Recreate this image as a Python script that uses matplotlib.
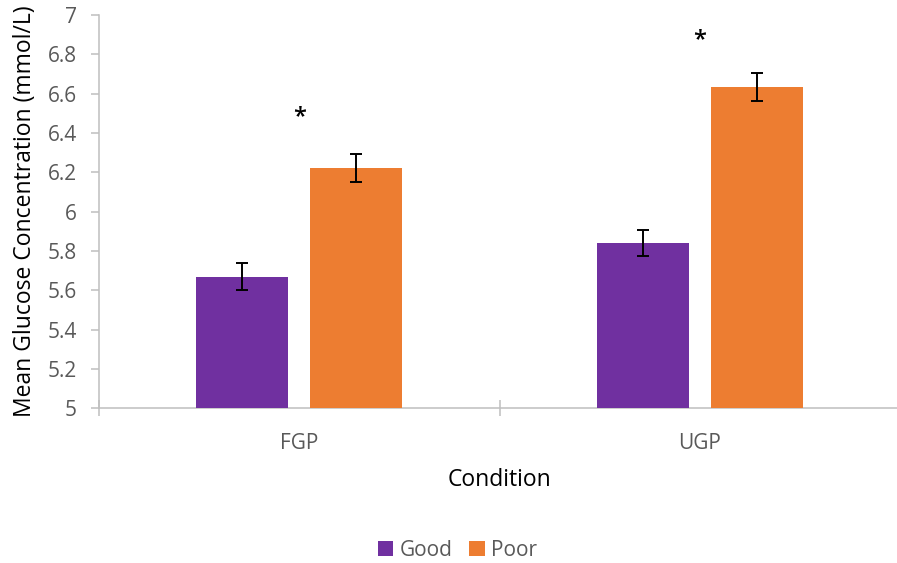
import matplotlib
matplotlib.use("Agg")
import matplotlib.pyplot as plt
import numpy as np

categories = ["FGP", "UGP"]
series_names = ["Good", "Poor"]
good_means = [5.67, 5.84]
poor_means = [6.22, 6.635]
good_err = [0.068, 0.068]
poor_err = [0.071, 0.07]
sig_marks = ["*", "*"]
sig_y = [6.50, 6.89]
y_ticks = [5, 5.2, 5.4, 5.6, 5.8, 6, 6.2, 6.4, 6.6, 6.8, 7]
y_tick_labels = ["5", "5.2", "5.4", "5.6", "5.8", "6", "6.2", "6.4", "6.6", "6.8", "7"]

plt.rcParams['font.family'] = ['Open Sans', 'DejaVu Sans']

purple = "#7030A0"
orange = "#ED7D31"
axis_gray = "#BFBFBF"
text_gray = "#595959"

fig = plt.figure(figsize=(8.97, 5.63), dpi=100)
ax = fig.add_axes([99 / 897, 1 - 408.3 / 563, 801 / 897, (408.3 - 15) / 563])

x = np.arange(len(categories))
width = 0.23
offset = 0.1425
ax.bar(x - offset, good_means, width, bottom=0, color=purple, label=series_names[0], zorder=2)
ax.bar(x + offset, poor_means, width, bottom=0, color=orange, label=series_names[1], zorder=2)
ax.errorbar(x - offset, good_means, yerr=good_err, fmt="none", ecolor="black",
            elinewidth=1.4, capsize=4.3, capthick=1.4, zorder=3)
ax.errorbar(x + offset, poor_means, yerr=poor_err, fmt="none", ecolor="black",
            elinewidth=1.4, capsize=4.3, capthick=1.4, zorder=3)

for xi, m, yv in zip(x, sig_marks, sig_y):
    ax.annotate(m, xy=(xi, yv), xytext=(0, -2.5), textcoords="offset points",
                ha="center", va="center", fontsize=17, fontweight="semibold", color="black")

ax.set_ylim(5, 7)
ax.set_xlim(-0.5, 1.5)
ax.set_yticks(y_ticks)
ax.set_yticklabels(y_tick_labels)
ax.set_xticks(x)
ax.set_xticklabels(categories)
ax.set_xticks([-0.5, 0.5, 1.5], minor=True)

for s in ["top", "right"]:
    ax.spines[s].set_visible(False)
for s in ["left", "bottom"]:
    ax.spines[s].set_color(axis_gray)
    ax.spines[s].set_linewidth(1.1)
    ax.spines[s].set_zorder(1)

ax.tick_params(axis="y", direction="out", length=5.8, width=1.1, color=axis_gray,
               labelsize=15, labelcolor=text_gray, pad=10)
ax.tick_params(axis="x", which="major", length=0, labelsize=15, labelcolor=text_gray, pad=18)
ax.tick_params(axis="x", which="minor", direction="inout", length=11, width=1.1, color=axis_gray)

ax.set_xlabel("Condition", fontsize=16.5, color="black", labelpad=10)
ax.set_ylabel("Mean Glucose Concentration (mmol/L)", fontsize=16.5, color="black", labelpad=8)

leg = fig.legend(loc="center", bbox_to_anchor=(0.510, 0.022), ncol=2, frameon=False,
                 fontsize=15, handlelength=0.75, handleheight=0.75, handletextpad=0.3,
                 columnspacing=0.8)
for t in leg.get_texts():
    t.set_color(text_gray)

fig.savefig("out.png", dpi=100)
